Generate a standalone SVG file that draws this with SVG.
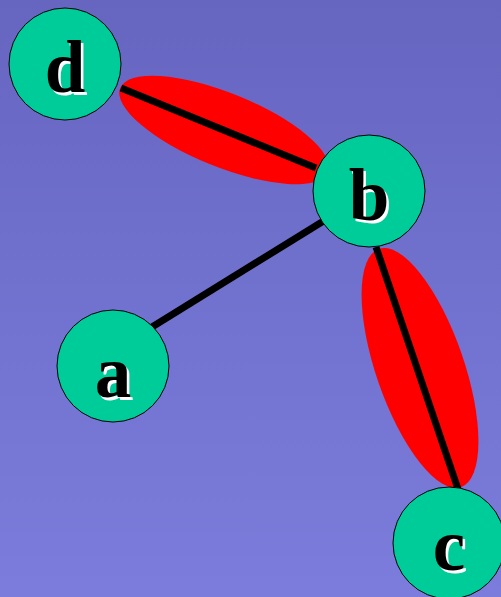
<svg xmlns="http://www.w3.org/2000/svg" width="501" height="597" viewBox="0 0 501 597">
  <defs>
    <linearGradient id="bg" x1="0" y1="0" x2="0" y2="1">
      <stop offset="0" stop-color="#6666c1"/>
      <stop offset="1" stop-color="#7c7cdc"/>
    </linearGradient>
  </defs>
  <style>
    .blob { fill: #ff0000; }
    .edge { stroke: #000; stroke-width: 7; fill: none; }
    .node circle { fill: #00cc99; stroke: #000; stroke-width: 1; }
    .label { font-family: "Liberation Serif", "Times New Roman", serif; font-weight: bold; font-size: 73px; text-anchor: middle; }
    .shadow { fill: #fff; }
    .ink { fill: #000; }
  </style>

  <rect width="501" height="597" fill="url(#bg)"/>

  <!-- highlighted edges -->
  <g id="highlights">
    <ellipse class="blob" cx="224" cy="130" rx="112" ry="37" transform="rotate(22 224 130)"/>
    <ellipse class="blob" cx="420" cy="368" rx="126" ry="44" transform="rotate(71 420 368)"/>
  </g>

  <!-- connectors -->
  <g id="edges">
    <line class="edge" x1="121" y1="88" x2="316" y2="168"/>
    <line class="edge" x1="152" y1="327" x2="330" y2="217"/>
    <line class="edge" x1="376" y1="247" x2="458" y2="489"/>
  </g>

  <g id="node-d" class="node">
    <circle cx="65" cy="64" r="56"/>
    <text class="label shadow" x="67.5" y="94.5">d</text>
    <text class="label ink" x="65" y="92">d</text>
  </g>
  <g id="node-b" class="node">
    <circle cx="369" cy="191" r="56"/>
    <text class="label shadow" x="371.5" y="222.5">b</text>
    <text class="label ink" x="369" y="220">b</text>
  </g>
  <g id="node-a" class="node">
    <circle cx="113" cy="366" r="56"/>
    <text class="label shadow" x="115.5" y="399.5">a</text>
    <text class="label ink" x="113" y="397">a</text>
  </g>
  <g id="node-c" class="node">
    <circle cx="449" cy="543" r="56"/>
    <text class="label shadow" x="451.5" y="572.5">c</text>
    <text class="label ink" x="449" y="570">c</text>
  </g>
</svg>
